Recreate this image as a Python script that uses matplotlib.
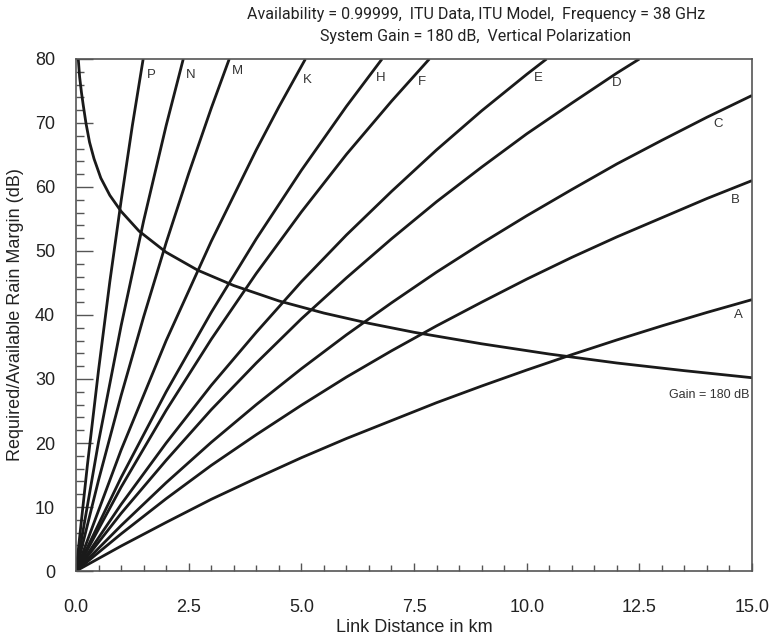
import matplotlib
matplotlib.use("Agg")
import matplotlib.pyplot as plt
from matplotlib.ticker import MultipleLocator, FormatStrFormatter

plt.rcParams['font.family'] = ['Liberation Sans', 'DejaVu Sans']

# Required rain margin (dB) versus link distance (km) for each ITU rain region
dist_P = [0, 0.25, 0.5, 0.75, 1.0, 1.25, 1.49]
margin_P = [0, 16.4, 31.4, 45.2, 57.8, 69.6, 80.0]
dist_N = [0, 0.5, 1.0, 1.5, 2.0, 2.38]
margin_N = [0, 20.2, 38.3, 54.7, 69.6, 80.0]
dist_M = [0, 0.5, 1.0, 1.5, 2.0, 2.5, 3.0, 3.4]
margin_M = [0, 14.2, 27.4, 39.7, 51.3, 62.1, 72.3, 80.0]
dist_K = [0, 1, 2, 3, 4, 4.5, 5.09]
margin_K = [0, 18.9, 36.0, 51.5, 65.8, 72.5, 80.0]
dist_H = [0, 1, 2, 3, 4, 5, 6, 6.79]
margin_H = [0, 14.6, 28.0, 40.4, 51.9, 62.6, 72.6, 80.0]
dist_F = [0, 1, 2, 3, 4, 5, 6, 7, 7.84]
margin_F = [0, 13.1, 25.1, 36.2, 46.5, 56.1, 65.1, 73.4, 80.0]
dist_E = [0, 1, 2, 3, 4, 5, 6, 7, 8, 9, 10, 10.44]
margin_E = [0, 10.4, 20.0, 29.0, 37.3, 45.2, 52.5, 59.3, 65.8, 71.9, 77.6, 80.0]
dist_D = [0, 1, 2, 3, 4, 5, 6, 7, 8, 9, 10, 11, 12, 12.5]
margin_D = [0, 9.0, 17.3, 25.2, 32.5, 39.4, 45.8, 51.9, 57.7, 63.1, 68.3, 73.1, 77.8, 80.0]
dist_full = [0, 1, 2, 3, 4, 5, 6, 7, 8, 9, 10, 11, 12, 13, 14, 15]
margin_C = [0, 7.1, 13.8, 20.1, 26.0, 31.6, 36.9, 41.9, 46.7, 51.2, 55.5, 59.6, 63.6, 67.3, 70.9, 74.3]
margin_B = [0, 5.8, 11.3, 16.5, 21.3, 25.9, 30.3, 34.4, 38.3, 42.0, 45.6, 49.0, 52.2, 55.2, 58.2, 61.0]
margin_A = [0, 3.9, 7.6, 11.2, 14.5, 17.7, 20.7, 23.5, 26.3, 28.9, 31.4, 33.8, 36.1, 38.3, 40.4, 42.4]

# Available fade margin for a system gain of 180 dB
dist_gain = [0.05, 0.08, 0.12, 0.16, 0.22, 0.3, 0.4, 0.55, 0.75, 1.0, 1.4, 2.0,
             2.7, 3.5, 4.5, 5.5, 6.5, 7.5, 9.0, 10.5, 12.0, 13.5, 15.0]
margin_gain = [80.0, 77.2, 74.8, 72.8, 70.0, 67.0, 64.4, 61.4, 58.7, 56.2, 53.1, 49.8,
               47.0, 44.6, 42.2, 40.3, 38.7, 37.3, 35.5, 33.9, 32.5, 31.3, 30.2]

regions = ['P', 'N', 'M', 'K', 'H', 'F', 'E', 'D', 'C', 'B', 'A']
region_curves = [
    (dist_P, margin_P), (dist_N, margin_N), (dist_M, margin_M), (dist_K, margin_K),
    (dist_H, margin_H), (dist_F, margin_F), (dist_E, margin_E), (dist_D, margin_D),
    (dist_full, margin_C), (dist_full, margin_B), (dist_full, margin_A),
]
region_label_pos = [
    (1.66, 77.5), (2.54, 77.5), (3.58, 78.1), (5.14, 76.7), (6.77, 77.0),
    (7.67, 76.4), (10.26, 77.0), (12.0, 76.2), (14.24, 69.8), (14.64, 58.0),
    (14.69, 40.0),
]

x_ticks = [0.0, 2.5, 5.0, 7.5, 10.0, 12.5, 15.0]
y_ticks = [0, 10, 20, 30, 40, 50, 60, 70, 80]

line_color = '#1a1a1a'
axis_color = '#555555'
text_color = '#333333'
title_font = ['Roboto', 'Liberation Sans', 'DejaVu Sans']

fig = plt.figure(figsize=(7.71, 6.37), dpi=100)
ax = fig.add_axes([0.0986, 0.1036, 0.8768, 0.8038])

for (d, m) in region_curves:
    ax.plot(d, m, color=line_color, lw=2.0, solid_capstyle='butt', clip_on=True)
ax.plot(dist_gain, margin_gain, color=line_color, lw=2.0, clip_on=True)

for name, (lx, ly) in zip(regions, region_label_pos):
    ax.text(lx, ly, name, fontsize=9.5, color=text_color, ha='center', va='center')
ax.text(14.95, 27.5, 'Gain = 180 dB', fontsize=9, color=text_color, ha='right', va='center')

ax.set_xlim(0, 15)
ax.set_ylim(0, 80)
ax.set_xticks(x_ticks)
ax.set_yticks(y_ticks)
ax.xaxis.set_major_formatter(FormatStrFormatter('%.1f'))
ax.xaxis.set_minor_locator(MultipleLocator(0.5))
ax.yaxis.set_minor_locator(MultipleLocator(2))

ax.tick_params(axis='x', which='major', direction='in', length=6, width=1,
               color=axis_color, pad=20, labelsize=13, labelcolor='#222222')
ax.tick_params(axis='x', which='minor', direction='in', length=4.5, width=1,
               color=axis_color)
ax.tick_params(axis='y', which='major', direction='in', length=12, width=1,
               color=axis_color, pad=15, labelsize=13, labelcolor='#222222')
ax.tick_params(axis='y', which='minor', direction='in', length=6, width=1,
               color=axis_color)

for s in ax.spines.values():
    s.set_color(axis_color)
    s.set_linewidth(1.2)

ax.set_xlabel('Link Distance in km', fontsize=13, color='#222222', labelpad=2)
ax.set_ylabel('Required/Available Rain Margin (dB)', fontsize=13, color='#222222', labelpad=8)

fig.text(0.617, 0.978, 'Availability = 0.99999,  ITU Data, ITU Model,  Frequency = 38 GHz',
         fontsize=11.5, ha='center', va='center', color='#222222', family=title_font)
fig.text(0.617, 0.942, 'System Gain = 180 dB,  Vertical Polarization',
         fontsize=11.5, ha='center', va='center', color='#222222', family=title_font)

fig.savefig('out.png', dpi=100)
